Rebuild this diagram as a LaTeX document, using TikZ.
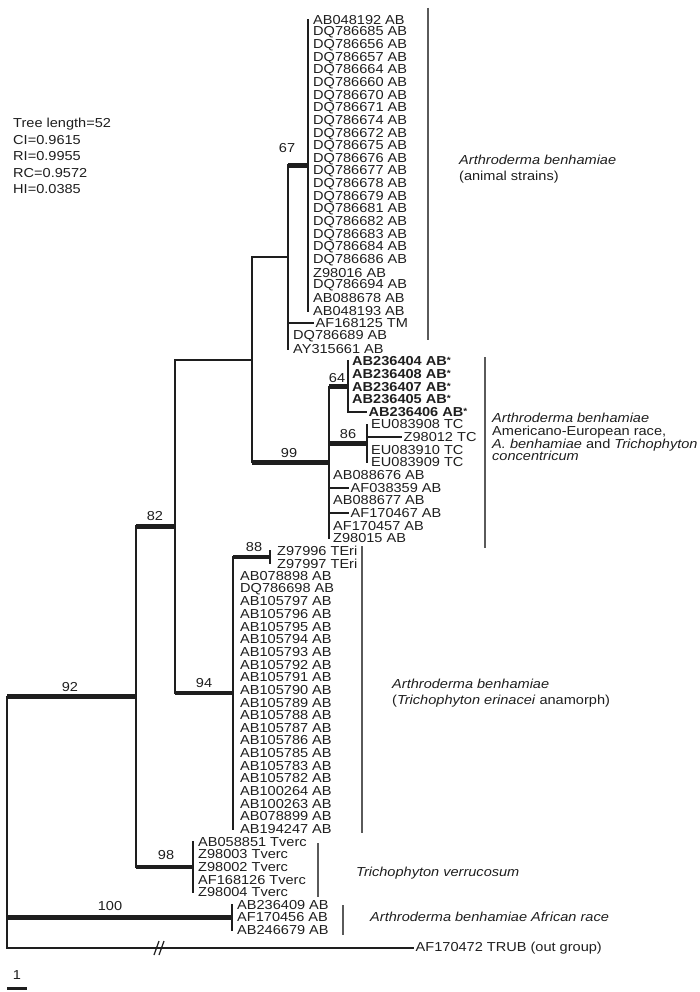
\documentclass[tikz,border=0pt]{standalone}
\usepackage{fontspec}
\setmainfont{Liberation Sans}[FakeStretch=1.12]
\usetikzlibrary{positioning}
\definecolor{ink}{HTML}{1E1E1E}
\definecolor{rule}{HTML}{5A5A5A}
\newcommand\taxfont{\fontsize{13}{15}\selectfont}
\newcommand\rw[1]{20+12.64*(#1)}
\newcommand\sstar{\raisebox{2pt}{\fontsize{9}{9}\selectfont*}}

\begin{document}
\begin{tikzpicture}[x=1pt, y=-1pt,
  br/.style={draw=ink, line width=1.9pt, line cap=rect},
  thk/.style={draw=ink, line width=4.4pt},
  leaf/.style={anchor=west, inner xsep=2.5pt, inner ysep=0pt, text=ink, font=\taxfont},
  bs/.style={inner sep=0pt, text=ink, font=\taxfont},
  clade/.style={anchor=west, align=left, inner sep=0pt, text=ink, font=\fontsize{13}{14}\selectfont},
  bracket/.style={draw=rule, line width=1.1pt}]
\useasboundingbox (0,0) rectangle (700,992);

% tree statistics
\node[clade, anchor=north west, font=\fontsize{13}{16.5}\selectfont] (stats) at (13,118)
  {Tree length=52\\CI=0.9615\\RI=0.9955\\RC=0.9572\\HI=0.0385};

% internal nodes
\coordinate (root) at (7,822);
\coordinate (n92) at (136,696.6);
\coordinate (n100) at (232,917.4);
\coordinate (n82) at (175,526.4);
\coordinate (n98) at (193,866.9);
\coordinate (nB) at (252,359.7);
\coordinate (n94) at (233,693.1);
\coordinate (nA) at (288,257);
\coordinate (n99) at (329,462.4);
\coordinate (n67) at (308,165.4);
\coordinate (n64) at (348,386.6);
\coordinate (n86) at (367,443.4);
\coordinate (n88) at (270,557.2);

% animal strains
\foreach \t [count=\i from 0] in {AB048192 AB, DQ786685 AB, DQ786656 AB, DQ786657 AB,
  DQ786664 AB, DQ786660 AB, DQ786670 AB, DQ786671 AB, DQ786674 AB, DQ786672 AB,
  DQ786675 AB, DQ786676 AB, DQ786677 AB, DQ786678 AB, DQ786679 AB, DQ786681 AB,
  DQ786682 AB, DQ786683 AB, DQ786684 AB, DQ786686 AB, Z98016 AB, DQ786694 AB,
  AB088678 AB, AB048193 AB}
  \node[leaf] (t\i) at (310.5,{\rw{\i}}) {\t};
\node[leaf] (t24) at (313,{\rw{24}}) {AF168125 TM};
\node[leaf] (t25) at (290.5,{\rw{25}}) {DQ786689 AB};
\node[leaf] (t26) at (290.5,{\rw{26}}) {AY315661 AB};

% Americano-European race
\foreach \t [count=\i from 27] in {404,408,407,405}
  \node[leaf, font=\taxfont\bfseries] (t\i) at (349.5,{\rw{\i}}) {AB236\t\ AB\sstar};
\node[leaf, font=\taxfont\bfseries] (t31) at (366,{\rw{31}}) {AB236406 AB\sstar};
\node[leaf] (t32) at (368.5,{\rw{32}}) {EU083908 TC};
\node[leaf] (t33) at (401,{\rw{33}}) {Z98012 TC};
\node[leaf] (t34) at (368.5,{\rw{34}}) {EU083910 TC};
\node[leaf] (t35) at (368.5,{\rw{35}}) {EU083909 TC};
\node[leaf] (t36) at (330.5,{\rw{36}}) {AB088676 AB};
\node[leaf] (t37) at (348,{\rw{37}}) {AF038359 AB};
\node[leaf] (t38) at (330.5,{\rw{38}}) {AB088677 AB};
\node[leaf] (t39) at (348,{\rw{39}}) {AF170467 AB};
\node[leaf] (t40) at (330.5,{\rw{40}}) {AF170457 AB};
\node[leaf] (t41) at (330.5,{\rw{41}}) {Z98015 AB};

% erinacei anamorph
\node[leaf] (t42) at (274.5,{\rw{42}}) {Z97996 TEri};
\node[leaf] (t43) at (274.5,{\rw{43}}) {Z97997 TEri};
\foreach \t [count=\i from 44] in {AB078898 AB, DQ786698 AB, AB105797 AB, AB105796 AB,
  AB105795 AB, AB105794 AB, AB105793 AB, AB105792 AB, AB105791 AB, AB105790 AB,
  AB105789 AB, AB105788 AB, AB105787 AB, AB105786 AB, AB105785 AB, AB105783 AB,
  AB105782 AB, AB100264 AB, AB100263 AB, AB078899 AB, AB194247 AB}
  \node[leaf] (t\i) at (237.5,{\rw{\i}}) {\t};

% verrucosum, African race, out group
\foreach \t [count=\i from 65] in {AB058851 Tverc, Z98003 Tverc, Z98002 Tverc,
  AF168126 Tverc, Z98004 Tverc}
  \node[leaf] (t\i) at (195.5,{\rw{\i}}) {\t};
\foreach \t [count=\i from 70] in {AB236409 AB, AF170456 AB, AB246679 AB}
  \node[leaf] (t\i) at (234.5,{\rw{\i}}) {\t};
\node[leaf] (out) at (413,948) {AF170472 TRUB (out group)};

% verticals
\draw[br] (n67 |- t0) -- (n67 |- t23);
\draw[br] (nA |- n67) -- (nA |- t26);
\draw[br] (n64 |- t27) -- (n64 |- t31);
\draw[br] (n86 |- t32) -- (n86 |- t35);
\draw[br] (n99 |- n64) -- (n99 |- t41);
\draw[br] (nB |- nA) -- (nB |- n99);
\draw[br] (n88 |- t42) -- (n88 |- t43);
\draw[br] (n94 |- n88) -- (n94 |- t64);
\draw[br] (n82 |- nB) -- (n82 |- n94);
\draw[br] (n98 |- t65) -- (n98 |- t69);
\draw[br] (n92 |- n82) -- (n92 |- n98);
\draw[br] (n100 |- t70) -- (n100 |- t72);
\draw[br] (root |- n92) -- (root |- out);

% branches
\draw[thk] (root |- n92) -- (n92);
\draw[thk] (root |- n100) -- (n100);
\draw[br] (root |- out) -- (out.west);
\draw[thk] (n92 |- n82) -- (n82);
\draw[thk] (n92 |- n98) -- (n98);
\draw[br] (n82 |- nB) -- (nB);
\draw[thk] (n82 |- n94) -- (n94);
\draw[br] (nB |- nA) -- (nA);
\draw[thk] (nB |- n99) -- (n99);
\draw[thk] (nA |- n67) -- (n67);
\draw[br] (nA |- t24) -- (t24.west);
\draw[thk] (n99 |- n64) -- (n64);
\draw[thk] (n99 |- n86) -- (n86);
\draw[br] (n99 |- t37) -- (t37.west);
\draw[br] (n99 |- t39) -- (t39.west);
\draw[br] (n64 |- t31) -- (t31.west);
\draw[br] (n86 |- t33) -- (t33.west);
\draw[thk] (n94 |- n88) -- (n88);

% break on the out group branch
\coordinate (brk) at (160,948);
\draw[draw=ink, line width=1.2pt] ([shift={(-6,7)}]brk) -- ++(5,-14);
\draw[draw=ink, line width=1.2pt] ([shift={(-1,7)}]brk) -- ++(5,-14);

% bootstrap values
\node[bs] (b67) at (287,148) {67};
\node[bs] (b64) at (337,378) {64};
\node[bs] (b86) at (348,434) {86};
\node[bs] (b99) at (289,453) {99};
\node[bs] (b88) at (254,547) {88};
\node[bs] (b94) at (204,683) {94};
\node[bs] (b82) at (155,516) {82};
\node[bs] (b92) at (70,687) {92};
\node[bs] (b98) at (166,855) {98};
\node[bs] (b100) at (110,906) {100};

% clade brackets and names
\draw[bracket] (428,8) -- (428,340);
\draw[bracket] (485,357) -- (485,548);
\draw[bracket] (362,546) -- (362,833);
\draw[bracket] (318,843) -- (318,897);
\draw[bracket] (343,905) -- (343,935);
\node[clade, font=\fontsize{13}{16.5}\selectfont] (c1) at (459,169)
  {\textit{Arthroderma benhamiae}\\(animal strains)};
\node[clade, font=\fontsize{13}{12.8}\selectfont] (c2) at (492,437)
  {\textit{Arthroderma benhamiae}\\Americano-European race,\\\textit{A. benhamiae} and \textit{Trichophyton}\\\textit{concentricum}};
\node[clade, font=\fontsize{13}{16}\selectfont] (c3) at (392,693)
  {\textit{Arthroderma benhamiae}\\(\textit{Trichophyton erinacei} anamorph)};
\node[clade] (c4) at (356,873) {\textit{Trichophyton verrucosum}};
\node[clade] (c5) at (370,917) {\textit{Arthroderma benhamiae African race}};

% scale bar
\node[bs] (one) at (17,975) {1};
\coordinate (sb) at (7,988);
\draw[draw=ink, line width=3pt] (sb) -- ++(20,0);
\end{tikzpicture}
\end{document}
